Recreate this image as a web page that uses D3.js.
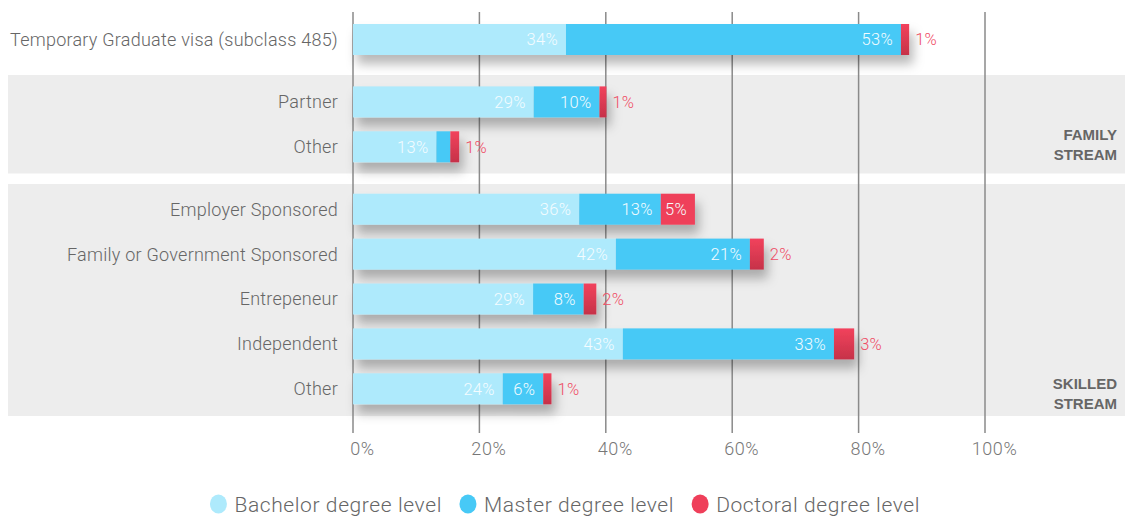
<!DOCTYPE html>
<html>
<head>
<meta charset="utf-8">
<script src="https://cdn.jsdelivr.net/npm/d3@7"></script>
<style>
  html, body { margin: 0; padding: 0; background: #fff; }
  svg { display: block; font-family: Roboto, "Liberation Sans", sans-serif; }
</style>
</head>
<body>
<svg id="chart" width="1125" height="516"></svg>
<script>
// ---- data ----
const categories = [
  "Temporary Graduate visa (subclass 485)",
  "Partner",
  "Other",
  "Employer Sponsored",
  "Family or Government Sponsored",
  "Entrepeneur",
  "Independent",
  "Other"
];
const groupOf = [0, 1, 1, 2, 2, 2, 2, 2];
const groupLabels = [null, ["FAMILY", "STREAM"], ["SKILLED", "STREAM"]];
const bachelor = [33.7, 28.6, 13.2, 35.8, 41.6, 28.5, 42.7, 23.7];
const master   = [53.0, 10.4, 2.2, 12.9, 21.2, 8.0, 33.4, 6.4];
const doctoral = [1.3, 1.1, 1.4, 5.4, 2.2, 2.0, 3.2, 1.3];
const seriesNames = ["Bachelor degree level", "Master degree level", "Doctoral degree level"];
const xTicks = [0, 20, 40, 60, 80, 100];

// ---- setup ----
const svg = d3.select("#chart");
const W = 1125;
const x = d3.scaleLinear().domain([0, 100]).range([353, 985]);
const rowY = i => 39.5 + 44.9 * i + 17.5 * groupOf[i];   // row centre
const barH = 31;
const colors = ["#aeeafc", "#47c9f6", "#ef3f5a"];

const defs = svg.append("defs");
const f = defs.append("filter").attr("id", "shadow")
  .attr("x", "-10%").attr("y", "-50%").attr("width", "130%").attr("height", "250%");
f.append("feDropShadow").attr("dx", 4).attr("dy", 9).attr("stdDeviation", 5.5)
  .attr("flood-color", "#000").attr("flood-opacity", 0.28);
const g = defs.append("linearGradient").attr("id", "docGrad")
  .attr("x1", 0).attr("y1", 0).attr("x2", 0).attr("y2", 1);
g.append("stop").attr("offset", "0%").attr("stop-color", "#f2425c");
g.append("stop").attr("offset", "100%").attr("stop-color", "#c63249");

// ---- group bands ----
const bands = [
  { g: 1, y0: 75, y1: 173.5 },
  { g: 2, y0: 184, y1: 416 }
];
svg.selectAll("rect.band").data(bands).join("rect")
  .attr("class", "band")
  .attr("x", 8).attr("width", W - 8)
  .attr("y", d => d.y0).attr("height", d => d.y1 - d.y0)
  .attr("fill", "#ededed");

// ---- gridlines ----
svg.selectAll("line.grid").data(xTicks).join("line")
  .attr("class", "grid")
  .attr("x1", d => x(d)).attr("x2", d => x(d))
  .attr("y1", 12).attr("y2", 433)
  .attr("stroke", "#8a8a8a").attr("stroke-width", 1.5);

// axis tick labels via d3 axis
const axisG = svg.append("g").attr("transform", "translate(0,433)")
  .call(d3.axisBottom(x).tickValues(xTicks).tickFormat(d => d + "%").tickSize(0).tickPadding(0));
axisG.select(".domain").remove();
axisG.selectAll("text")
  .attr("dx", 9).attr("dy", 0).attr("y", 22)
  .attr("fill", "#777").attr("font-size", 18).attr("font-weight", 300)
  .attr("letter-spacing", 0.6)
  .attr("font-family", "Roboto, 'Liberation Sans', sans-serif");

// ---- category labels ----
svg.selectAll("text.cat").data(categories).join("text")
  .attr("class", "cat")
  .attr("x", 338).attr("y", (d, i) => rowY(i))
  .attr("dy", "0.36em")
  .attr("text-anchor", "end")
  .attr("font-size", 18).attr("font-weight", 300).attr("fill", "#666")
  .attr("letter-spacing", 0.25)
  .text(d => d);

// ---- stream labels ----
bands.forEach(b => {
  const lines = groupLabels[b.g];
  const yBase = b.g === 1 ? 140 : 389;
  lines.forEach((t, k) => {
    svg.append("text")
      .attr("x", 1117).attr("y", yBase + k * 19.5)
      .attr("text-anchor", "end")
      .attr("font-family", "'Liberation Sans', Arial, sans-serif")
      .attr("font-size", 15).attr("font-weight", 700).attr("fill", "#666")
      .text(t);
  });
});

// ---- bars ----
const rows = categories.map((c, i) => {
  const vals = [bachelor[i], master[i], doctoral[i]];
  let acc = 0;
  const segs = vals.map((v, s) => {
    const seg = { s, v, x0: acc, x1: acc + v };
    acc += v;
    return seg;
  });
  return { i, segs, total: acc };
});

const rowG = svg.selectAll("g.row").data(rows).join("g")
  .attr("class", "row")
  .attr("transform", d => `translate(0,${rowY(d.i) - barH / 2})`);

rowG.append("g").attr("filter", "url(#shadow)")
  .selectAll("rect").data(d => d.segs).join("rect")
  .attr("x", d => x(d.x0))
  .attr("width", d => x(d.x1) - x(d.x0))
  .attr("y", 0).attr("height", barH)
  .attr("fill", d => d.s === 2 && d.v < 4 ? "url(#docGrad)" : colors[d.s]);

// labels
rowG.each(function(row) {
  const gSel = d3.select(this);
  row.segs.forEach(seg => {
    const label = Math.round(seg.v) + "%";
    const w = x(seg.x1) - x(seg.x0);
    if (seg.s === 2 && seg.v < 4) {
      gSel.append("text")
        .attr("x", x(seg.x1) + 6).attr("y", barH / 2).attr("dy", "0.36em")
        .attr("font-size", 16.5).attr("font-weight", 300).attr("fill", "#ef4d66")
        .attr("letter-spacing", 0.3)
        .text(label);
    } else if (w > 32) {
      gSel.append("text")
        .attr("x", x(seg.x1) - 8).attr("y", barH / 2).attr("dy", "0.36em")
        .attr("text-anchor", "end")
        .attr("font-size", 16.5).attr("font-weight", 300).attr("fill", "#f4fcff")
        .attr("letter-spacing", 0.3)
        .text(label);
    }
  });
});

// ---- legend ----
const legend = svg.append("g").attr("transform", "translate(0,504)");
const items = legend.selectAll("g").data(seriesNames).join("g");
items.append("ellipse").attr("rx", 8.5).attr("ry", 9.5).attr("cx", 0).attr("cy", 0)
  .attr("fill", (d, i) => colors[i]);
items.append("text").attr("x", 16).attr("dy", "0.36em")
  .attr("font-size", 21).attr("font-weight", 300).attr("fill", "#666")
  .attr("letter-spacing", 0.6)
  .text(d => d);
let cx = 0;
const pos = [];
items.each(function(d, i) {
  pos.push(cx);
  const tw = d3.select(this).select("text").node().getComputedTextLength();
  cx += 16 + tw + 26;
});
const totalW = cx - 26 + 8.5;
const startX = 565 - totalW / 2 + 8.5;
items.attr("transform", (d, i) => `translate(${startX + pos[i]},0)`);
</script>
</body>
</html>
